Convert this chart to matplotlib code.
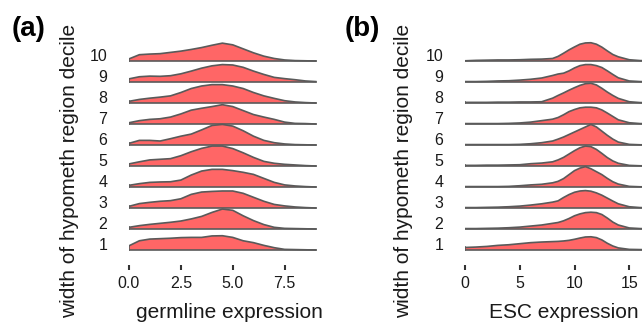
import matplotlib
matplotlib.use("Agg")
import matplotlib.pyplot as plt
import numpy as np

plt.rcParams['font.family'] = ['Liberation Sans', 'DejaVu Sans']

deciles = ["1", "2", "3", "4", "5", "6", "7", "8", "9", "10"]

# Panel (a): germline expression grid and ridge heights (in units of row spacing)
germ_x = [0, 0.5, 1, 1.5, 2, 2.5, 3, 3.5, 4, 4.5, 5, 5.5, 6, 6.5, 7, 7.5, 8, 8.5, 9]
germ_d1 = [0.20, 0.44, 0.52, 0.54, 0.56, 0.59, 0.60, 0.60, 0.67, 0.68, 0.60, 0.44, 0.35, 0.22, 0.11, 0.03, 0.02, 0.01, 0.0]
germ_d2 = [0.08, 0.16, 0.22, 0.27, 0.32, 0.38, 0.48, 0.60, 0.79, 0.95, 0.89, 0.63, 0.40, 0.21, 0.08, 0.03, 0.02, 0.01, 0.0]
germ_d3 = [0.08, 0.21, 0.27, 0.32, 0.35, 0.44, 0.65, 0.76, 0.79, 0.81, 0.81, 0.70, 0.51, 0.32, 0.17, 0.10, 0.05, 0.02, 0.0]
germ_d4 = [0.08, 0.16, 0.22, 0.24, 0.25, 0.33, 0.57, 0.76, 0.84, 0.84, 0.78, 0.70, 0.60, 0.41, 0.22, 0.10, 0.05, 0.02, 0.0]
germ_d5 = [0.10, 0.20, 0.29, 0.32, 0.35, 0.49, 0.68, 0.84, 0.95, 0.95, 0.83, 0.63, 0.41, 0.22, 0.13, 0.08, 0.05, 0.02, 0.0]
germ_d6 = [0.08, 0.22, 0.22, 0.19, 0.30, 0.42, 0.52, 0.72, 0.93, 0.98, 0.90, 0.68, 0.42, 0.22, 0.11, 0.05, 0.02, 0.01, 0.0]
germ_d7 = [0.06, 0.16, 0.22, 0.25, 0.33, 0.48, 0.66, 0.75, 0.83, 0.92, 0.83, 0.64, 0.45, 0.33, 0.22, 0.09, 0.03, 0.02, 0.0]
germ_d8 = [0.08, 0.17, 0.23, 0.28, 0.34, 0.50, 0.69, 0.81, 0.875, 0.875, 0.81, 0.69, 0.50, 0.34, 0.22, 0.11, 0.05, 0.02, 0.0]
germ_d9 = [0.15, 0.25, 0.28, 0.27, 0.30, 0.39, 0.52, 0.66, 0.77, 0.83, 0.81, 0.70, 0.52, 0.36, 0.22, 0.16, 0.11, 0.05, 0.02]
germ_d10 = [0.10, 0.30, 0.33, 0.35, 0.41, 0.47, 0.55, 0.64, 0.75, 0.85, 0.77, 0.58, 0.39, 0.23, 0.12, 0.05, 0.02, 0.01, 0.0]

# Panel (b): ESC expression grid and ridge heights
esc_x = [0, 1, 2, 3, 4, 5, 6, 7, 8, 8.5, 9, 9.5, 10, 10.5, 11, 11.5, 12, 12.5, 13, 13.5, 14, 15, 16, 17]
esc_d1 = [0.12, 0.14, 0.17, 0.22, 0.25, 0.30, 0.35, 0.38, 0.40, 0.41, 0.43, 0.46, 0.51, 0.57, 0.62, 0.63, 0.59, 0.48, 0.32, 0.19, 0.10, 0.03, 0.02, 0.01]
esc_d2 = [0.02, 0.02, 0.03, 0.04, 0.06, 0.09, 0.14, 0.19, 0.27, 0.31, 0.39, 0.50, 0.63, 0.72, 0.78, 0.80, 0.78, 0.69, 0.52, 0.33, 0.19, 0.05, 0.02, 0.01]
esc_d3 = [0.02, 0.02, 0.03, 0.04, 0.06, 0.09, 0.14, 0.20, 0.28, 0.34, 0.50, 0.64, 0.75, 0.81, 0.83, 0.80, 0.72, 0.61, 0.47, 0.33, 0.20, 0.06, 0.02, 0.01]
esc_d4 = [0.02, 0.02, 0.02, 0.02, 0.03, 0.06, 0.10, 0.13, 0.20, 0.27, 0.40, 0.59, 0.78, 0.90, 0.97, 0.87, 0.73, 0.59, 0.41, 0.25, 0.14, 0.03, 0.01, 0.01]
esc_d5 = [0.03, 0.03, 0.04, 0.04, 0.05, 0.06, 0.11, 0.14, 0.20, 0.29, 0.41, 0.57, 0.73, 0.87, 0.95, 0.92, 0.79, 0.60, 0.40, 0.24, 0.13, 0.03, 0.01, 0.01]
esc_d6 = [0.02, 0.02, 0.02, 0.02, 0.02, 0.03, 0.06, 0.11, 0.19, 0.28, 0.38, 0.50, 0.62, 0.74, 0.86, 0.98, 0.86, 0.66, 0.46, 0.28, 0.14, 0.03, 0.01, 0.01]
esc_d7 = [0.02, 0.02, 0.02, 0.02, 0.03, 0.05, 0.09, 0.16, 0.23, 0.31, 0.44, 0.59, 0.69, 0.77, 0.80, 0.80, 0.77, 0.67, 0.52, 0.36, 0.20, 0.06, 0.02, 0.01]
esc_d8 = [0.03, 0.03, 0.03, 0.04, 0.04, 0.05, 0.05, 0.06, 0.23, 0.36, 0.48, 0.61, 0.73, 0.84, 0.92, 0.94, 0.86, 0.70, 0.52, 0.36, 0.22, 0.06, 0.02, 0.01]
esc_d9 = [0.02, 0.02, 0.03, 0.05, 0.06, 0.09, 0.13, 0.19, 0.31, 0.38, 0.42, 0.53, 0.67, 0.78, 0.83, 0.83, 0.78, 0.69, 0.53, 0.36, 0.20, 0.05, 0.02, 0.01]
esc_d10 = [0.01, 0.03, 0.04, 0.05, 0.05, 0.06, 0.08, 0.09, 0.12, 0.22, 0.37, 0.53, 0.67, 0.80, 0.86, 0.87, 0.80, 0.66, 0.48, 0.31, 0.20, 0.06, 0.02, 0.01]

germ_rows = [germ_d1, germ_d2, germ_d3, germ_d4, germ_d5, germ_d6, germ_d7, germ_d8, germ_d9, germ_d10]
esc_rows = [esc_d1, esc_d2, esc_d3, esc_d4, esc_d5, esc_d6, esc_d7, esc_d8, esc_d9, esc_d10]

germ_ticks = [0.0, 2.5, 5.0, 7.5]
germ_ticklabels = ["0.0", "2.5", "5.0", "7.5"]
esc_ticks = [0, 5, 10, 15]
esc_ticklabels = ["0", "5", "10", "15"]

FILL = "#FF6666"
EDGE = "#5a5a5a"

W, H = 642, 324
fig = plt.figure(figsize=(W / 100, H / 100), dpi=100)

def px_rect(left, right, top, bottom):
    return [left / W, 1 - bottom / H, (right - left) / W, (bottom - top) / H]

def ridges(ax, xs, rows):
    xs = np.asarray(xs, dtype=float)
    for i in range(len(rows) - 1, -1, -1):
        base = i
        ys = np.asarray(rows[i], dtype=float) + base
        ax.fill_between(xs, base, ys, facecolor=FILL, edgecolor="none", zorder=10 - i)
        ax.plot(xs, ys, color=EDGE, lw=1.2, zorder=10 - i + 0.5, solid_joinstyle="round")
        ax.plot([xs[0], xs[-1]], [base, base], color=EDGE, lw=1.2, zorder=10 - i + 0.5)
        ax.plot([xs[0], xs[0]], [base, ys[0]], color=EDGE, lw=1.2, zorder=10 - i + 0.5)

def style(ax, ticks, ticklabels):
    for s in ax.spines.values():
        s.set_visible(False)
    ax.set_ylim(-0.7, 10.0)
    ax.set_yticks(range(10))
    ax.set_yticklabels(deciles, fontsize=11.5, color="#1a1a1a")
    for t in ax.get_yticklabels():
        t.set_verticalalignment("baseline")
    ax.tick_params(axis="y", length=0, pad=15.5)
    ax.set_xticks(ticks)
    ax.set_xticklabels(ticklabels, fontsize=11.5, color="#1a1a1a")
    ax.tick_params(axis="x", length=3.8, width=1.5, color="#333333", pad=4.2, direction="out")
    ax.patch.set_visible(False)

# Panel (a): x 0 at px 129, 20.75 px per unit
ax1 = fig.add_axes(px_rect(129, 129 + 20.75 * 9.05, 40, 264.7))
ridges(ax1, germ_x, germ_rows)
ax1.set_xlim(0, 9.05)
style(ax1, germ_ticks, germ_ticklabels)

# Panel (b): x 0 at px 465, 10.95 px per unit
ax2 = fig.add_axes(px_rect(465, 465 + 10.95 * 17, 40, 264.7))
ridges(ax2, esc_x, esc_rows)
ax2.set_xlim(0, 17)
style(ax2, esc_ticks, esc_ticklabels)

fig.text(70 / W, 1 - 171 / H, "width of hypometh region decile", rotation=90,
         ha="center", va="center", fontsize=15, color="#1a1a1a")
fig.text(404 / W, 1 - 171 / H, "width of hypometh region decile", rotation=90,
         ha="center", va="center", fontsize=15, color="#1a1a1a")
fig.text(229 / W, 1 - 313 / H, "germline expression", ha="center", va="center", fontsize=15, color="#1a1a1a")
fig.text(564 / W, 1 - 313 / H, "ESC expression", ha="center", va="center", fontsize=15, color="#1a1a1a")
fig.text(29 / W, 1 - 29 / H, "(a)", ha="center", va="center", fontsize=20, fontweight="bold")
fig.text(362 / W, 1 - 29 / H, "(b)", ha="center", va="center", fontsize=20, fontweight="bold")

fig.savefig("out.png", dpi=100)
